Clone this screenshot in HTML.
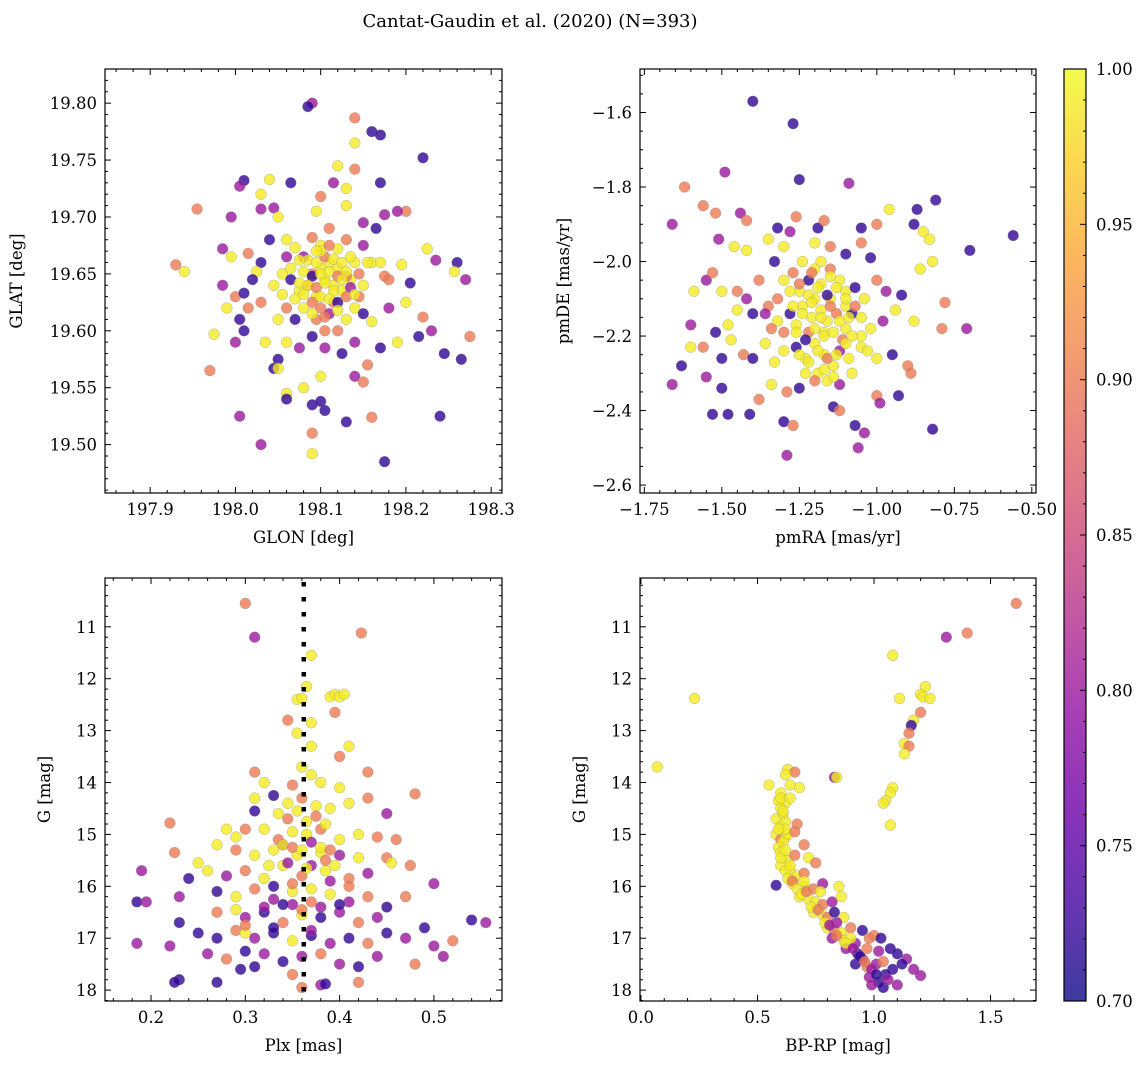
<!DOCTYPE html>
<html><head><meta charset="utf-8"><style>
html,body{margin:0;padding:0;background:#fff;}
svg{display:block;font-family:"DejaVu Serif","Liberation Serif",serif;}
</style></head><body>
<svg id="fig" width="1148" height="1068" viewBox="0 0 1148 1068" xmlns="http://www.w3.org/2000/svg">
<defs>
<linearGradient id="plasma" x1="0" y1="1" x2="0" y2="0">
<stop offset="0" stop-color="#0d0887"/><stop offset="0.1" stop-color="#41049d"/><stop offset="0.2" stop-color="#6a00a8"/><stop offset="0.3" stop-color="#8f0da4"/><stop offset="0.4" stop-color="#b12a90"/><stop offset="0.5" stop-color="#cc4778"/><stop offset="0.6" stop-color="#e16462"/><stop offset="0.7" stop-color="#f2844b"/><stop offset="0.8" stop-color="#fca636"/><stop offset="0.9" stop-color="#fcce25"/><stop offset="1" stop-color="#f0f921"/>
</linearGradient>
</defs>
<text x="530" y="27" text-anchor="middle" font-size="18">Cantat-Gaudin et al. (2020) (N=393)</text>
</svg>
<script>
// ---------- data ----------
const p1_glon=[198.09,198.085,198.14,198.14,198.16,198.17,198.22,198.12,198.14,197.955,198.01,198.005,198.04,198.065,198.03,198.1,198.115,198.13,198.17,198.2,198.175,198.19,198.03,198.045,198.05,197.995,198.095,198.13,198.15,198.165,198.225,197.93,197.94,197.985,197.995,198.015,198.03,198.025,198.04,198.06,198.07,198.08,198.09,198.1,198.11,198.12,198.13,198.14,198.15,198.16,198.175,198.195,198.205,198.235,198.26,198.257,198.27,197.985,198.0,198.01,198.015,197.99,198.005,198.03,198.045,198.055,198.065,198.075,198.085,198.095,198.105,198.115,198.125,198.135,198.1,198.09,198.12,198.08,198.07,198.1,198.11,198.12,198.13,198.14,198.15,198.16,198.18,198.2,198.22,198.23,198.19,198.215,198.245,198.265,198.275,197.975,197.97,198.0,198.01,198.035,198.05,198.06,198.075,198.09,198.105,198.125,198.14,198.155,198.17,198.045,198.05,198.06,198.06,198.1,198.14,198.15,198.08,198.005,198.09,198.1,198.105,198.13,198.16,198.24,198.03,198.09,198.09,198.175,198.145,198.06,198.05,198.02,198.18,198.17,198.11,198.115,198.13,198.105,198.095];
const p1_glat=[19.80,19.797,19.787,19.765,19.775,19.772,19.752,19.745,19.742,19.707,19.732,19.727,19.733,19.73,19.72,19.718,19.73,19.725,19.73,19.705,19.702,19.705,19.707,19.708,19.70,19.70,19.705,19.71,19.695,19.69,19.672,19.658,19.652,19.672,19.665,19.668,19.66,19.652,19.68,19.68,19.673,19.665,19.682,19.675,19.69,19.672,19.68,19.66,19.675,19.66,19.648,19.658,19.642,19.662,19.66,19.652,19.645,19.64,19.63,19.633,19.62,19.62,19.61,19.625,19.64,19.65,19.645,19.635,19.64,19.63,19.645,19.64,19.635,19.645,19.655,19.65,19.655,19.62,19.61,19.62,19.615,19.60,19.61,19.62,19.615,19.608,19.62,19.625,19.612,19.60,19.59,19.595,19.58,19.575,19.595,19.597,19.565,19.59,19.60,19.59,19.575,19.59,19.585,19.595,19.585,19.58,19.59,19.57,19.585,19.567,19.567,19.545,19.54,19.56,19.56,19.555,19.55,19.525,19.535,19.538,19.53,19.52,19.524,19.525,19.50,19.51,19.492,19.485,19.63,19.62,19.61,19.645,19.645,19.66,19.66,19.625,19.648,19.60,19.61];
const p1_prob=[0.8,0.72,0.9,0.99,0.72,0.72,0.72,0.99,0.9,0.9,0.72,0.8,0.99,0.72,0.99,0.9,0.8,0.99,0.72,0.9,0.8,0.8,0.8,0.8,0.99,0.8,0.99,0.99,0.8,0.72,0.99,0.9,0.99,0.8,0.99,0.9,0.72,0.99,0.72,0.99,0.99,0.8,0.9,0.99,0.9,0.99,0.9,0.99,0.8,0.99,0.9,0.99,0.72,0.8,0.72,0.99,0.8,0.8,0.9,0.72,0.9,0.99,0.72,0.9,0.99,0.99,0.72,0.99,0.9,0.99,0.99,0.99,0.99,0.99,0.99,0.9,0.99,0.99,0.72,0.9,0.8,0.9,0.99,0.99,0.72,0.99,0.8,0.99,0.9,0.8,0.99,0.72,0.72,0.72,0.9,0.99,0.9,0.8,0.72,0.99,0.72,0.99,0.8,0.72,0.8,0.72,0.8,0.9,0.72,0.72,0.99,0.99,0.72,0.99,0.8,0.9,0.99,0.8,0.72,0.72,0.72,0.72,0.9,0.72,0.8,0.9,0.99,0.72,0.9,0.9,0.99,0.72,0.9,0.99,0.99,0.9,0.9,0.9,0.9];
const p1_glon_core=[198.085,198.095,198.105,198.115,198.125,198.08,198.09,198.1,198.11,198.12,198.13,198.075,198.085,198.095,198.105,198.115,198.125,198.135,198.07,198.08,198.09,198.1,198.11,198.12,198.13,198.14,198.065,198.075,198.135,198.145,198.055,198.06,198.15,198.155,198.1,198.11,198.09,198.12,198.105,198.095];
const p1_glat_core=[19.662,19.66,19.665,19.663,19.66,19.652,19.648,19.65,19.652,19.648,19.652,19.642,19.64,19.638,19.642,19.635,19.645,19.638,19.628,19.632,19.625,19.63,19.628,19.625,19.63,19.632,19.655,19.662,19.665,19.65,19.632,19.665,19.64,19.66,19.67,19.675,19.615,19.618,19.612,19.67];
const p1_prob_core=[0.99,0.99,0.9,0.99,0.99,0.99,0.72,0.99,0.99,0.9,0.99,0.99,0.99,0.9,0.99,0.99,0.99,0.8,0.99,0.99,0.9,0.99,0.99,0.72,0.9,0.99,0.99,0.99,0.99,0.9,0.99,0.8,0.99,0.99,0.99,0.9,0.99,0.99,0.9,0.99];

const p2_pmra=[-1.4,-1.27,-1.25,-1.62,-1.49,-1.09,-0.81,-0.56,-0.87,-0.96,-1.56,-1.52,-1.44,-1.66,-1.42,-1.32,-1.28,-1.26,-1.19,-1.17,-1.05,-1.0,-0.88,-0.85,-0.83,-0.7,-1.51,-1.46,-1.42,-1.35,-1.3,-1.2,-1.15,-1.1,-1.05,-1.02,-0.82,-1.55,-1.53,-1.59,-1.5,-1.45,-1.42,-1.38,-1.33,-1.3,-1.27,-1.24,-1.22,-1.2,-1.18,-1.15,-1.12,-1.1,-1.07,-1.04,-1.0,-0.97,-0.92,-0.86,-0.78,-1.6,-1.52,-1.48,-1.45,-1.4,-1.35,-1.32,-1.28,-1.26,-1.24,-1.21,-1.18,-1.16,-1.13,-1.1,-1.08,-1.05,-1.02,-0.98,-0.94,-0.88,-0.79,-0.71,-1.63,-1.6,-1.56,-1.5,-1.47,-1.43,-1.4,-1.36,-1.33,-1.3,-1.26,-1.23,-1.2,-1.17,-1.14,-1.12,-1.09,-1.05,-1.0,-0.95,-0.9,-0.89,-1.66,-1.55,-1.5,-1.38,-1.34,-1.29,-1.25,-1.19,-1.16,-1.12,-1.08,-1.0,-0.93,-1.53,-1.48,-1.41,-1.3,-1.27,-1.14,-1.12,-1.04,-1.07,-1.06,-0.99,-0.82,-1.29,-1.15,-1.2,-1.25,-1.1,-1.17,-1.22,-1.3];
const p2_pmde=[-1.57,-1.63,-1.78,-1.8,-1.76,-1.79,-1.835,-1.93,-1.86,-1.86,-1.85,-1.87,-1.87,-1.9,-1.89,-1.91,-1.92,-1.88,-1.91,-1.89,-1.91,-1.9,-1.9,-1.92,-1.94,-1.97,-1.94,-1.96,-1.97,-1.94,-1.96,-1.95,-1.96,-1.98,-1.95,-1.99,-2.0,-2.05,-2.03,-2.08,-2.08,-2.08,-2.1,-2.05,-2.0,-2.05,-2.03,-2.0,-2.05,-2.02,-2.06,-2.02,-2.05,-2.08,-2.07,-2.1,-2.05,-2.08,-2.09,-2.02,-2.11,-2.17,-2.19,-2.17,-2.13,-2.14,-2.12,-2.16,-2.14,-2.17,-2.12,-2.15,-2.13,-2.16,-2.14,-2.18,-2.14,-2.2,-2.18,-2.16,-2.13,-2.16,-2.18,-2.18,-2.28,-2.23,-2.23,-2.26,-2.21,-2.25,-2.26,-2.22,-2.27,-2.24,-2.23,-2.26,-2.22,-2.25,-2.28,-2.24,-2.26,-2.23,-2.26,-2.25,-2.28,-2.3,-2.33,-2.31,-2.34,-2.37,-2.33,-2.35,-2.34,-2.3,-2.32,-2.33,-2.3,-2.36,-2.36,-2.41,-2.41,-2.41,-2.43,-2.44,-2.39,-2.4,-2.46,-2.44,-2.5,-2.38,-2.45,-2.52,-2.1,-2.1,-2.08,-2.12,-2.19,-2.19,-2.19];
const p2_prob=[0.72,0.72,0.72,0.9,0.8,0.8,0.72,0.72,0.72,0.99,0.9,0.9,0.8,0.8,0.9,0.72,0.8,0.9,0.72,0.9,0.72,0.9,0.72,0.99,0.99,0.72,0.8,0.99,0.99,0.99,0.99,0.99,0.9,0.72,0.9,0.72,0.99,0.8,0.9,0.99,0.99,0.9,0.8,0.9,0.72,0.99,0.9,0.99,0.72,0.99,0.99,0.9,0.99,0.99,0.72,0.99,0.9,0.8,0.72,0.99,0.9,0.8,0.72,0.99,0.99,0.72,0.9,0.99,0.72,0.99,0.99,0.99,0.99,0.99,0.9,0.99,0.72,0.99,0.99,0.8,0.99,0.99,0.9,0.8,0.72,0.99,0.9,0.72,0.99,0.9,0.72,0.99,0.99,0.99,0.72,0.99,0.99,0.99,0.99,0.8,0.99,0.99,0.99,0.72,0.9,0.9,0.8,0.8,0.72,0.9,0.99,0.9,0.72,0.99,0.99,0.8,0.99,0.9,0.72,0.72,0.72,0.72,0.72,0.9,0.72,0.9,0.8,0.72,0.8,0.8,0.72,0.8,0.99,0.99,0.99,0.99,0.99,0.9,0.9];
const p2_pmra_core=[-1.28,-1.25,-1.22,-1.19,-1.16,-1.13,-1.1,-1.07,-1.27,-1.24,-1.21,-1.18,-1.15,-1.12,-1.09,-1.26,-1.23,-1.2,-1.17,-1.14,-1.11,-1.08,-1.25,-1.22,-1.19,-1.16,-1.13,-1.1,-1.23,-1.2,-1.17,-1.14,-1.21,-1.18,-1.15,-1.32,-1.34,-1.36,-1.05,-1.03];
const p2_pmde_core=[-2.08,-2.06,-2.09,-2.07,-2.09,-2.07,-2.1,-2.12,-2.12,-2.14,-2.11,-2.15,-2.12,-2.16,-2.15,-2.19,-2.21,-2.18,-2.2,-2.19,-2.21,-2.2,-2.25,-2.27,-2.24,-2.26,-2.25,-2.22,-2.3,-2.32,-2.29,-2.31,-2.03,-2.0,-2.04,-2.1,-2.18,-2.14,-2.15,-2.24];
const p2_prob_core=[0.99,0.9,0.99,0.99,0.72,0.99,0.99,0.9,0.99,0.99,0.99,0.99,0.9,0.99,0.99,0.99,0.72,0.99,0.99,0.99,0.9,0.99,0.99,0.99,0.99,0.9,0.99,0.99,0.99,0.9,0.99,0.99,0.9,0.99,0.99,0.9,0.9,0.8,0.99,0.99];

const p3_plx=[0.3,0.31,0.423,0.37,0.365,0.355,0.36,0.39,0.395,0.4,0.405,0.395,0.345,0.37,0.355,0.37,0.41,0.4,0.31,0.36,0.37,0.43,0.32,0.35,0.38,0.4,0.48,0.31,0.33,0.345,0.36,0.375,0.39,0.41,0.43,0.45,0.31,0.3,0.28,0.29,0.32,0.335,0.35,0.365,0.38,0.4,0.42,0.44,0.46,0.22,0.225,0.27,0.29,0.31,0.33,0.355,0.38,0.4,0.42,0.45,0.25,0.26,0.28,0.3,0.32,0.34,0.36,0.385,0.41,0.43,0.455,0.475,0.5,0.19,0.185,0.195,0.23,0.24,0.27,0.29,0.31,0.33,0.35,0.37,0.39,0.41,0.43,0.45,0.47,0.27,0.29,0.3,0.32,0.34,0.36,0.38,0.4,0.42,0.44,0.49,0.54,0.555,0.23,0.25,0.27,0.29,0.31,0.33,0.35,0.37,0.39,0.41,0.43,0.45,0.47,0.5,0.52,0.185,0.22,0.26,0.28,0.3,0.32,0.34,0.36,0.38,0.4,0.42,0.44,0.48,0.51,0.295,0.31,0.35,0.38,0.385,0.42,0.27,0.23,0.225,0.36,0.34,0.37,0.3,0.35];
const p3_g=[10.55,11.2,11.12,11.55,12.15,12.4,12.38,12.35,12.3,12.35,12.3,12.65,12.8,12.85,13.05,13.3,13.3,13.5,13.8,13.7,13.85,13.8,14.0,14.05,14.0,14.1,14.22,14.3,14.25,14.4,14.3,14.45,14.5,14.4,14.3,14.6,14.55,14.9,14.9,15.05,14.9,15.1,14.95,15.0,14.9,15.1,15.0,15.05,15.1,14.78,15.35,15.2,15.3,15.4,15.3,15.4,15.35,15.4,15.45,15.45,15.55,15.7,15.8,15.7,15.85,15.6,15.8,15.7,15.85,15.75,15.55,15.6,15.95,15.7,16.3,16.3,16.2,15.85,16.1,16.2,16.05,16.25,16.1,16.3,16.15,16.3,16.2,16.4,16.2,16.5,16.45,16.6,16.5,16.7,16.55,16.6,16.5,16.7,16.6,16.8,16.65,16.7,16.7,16.9,17.0,16.85,17.0,16.9,17.05,16.95,17.1,17.0,17.1,16.9,17.0,17.15,17.05,17.1,17.15,17.3,17.4,17.25,17.3,17.45,17.35,17.3,17.5,17.55,17.35,17.5,17.35,17.6,17.55,17.7,17.9,17.88,17.85,17.85,17.8,17.85,17.95,15.2,15.6,16.9,16.35];
const p3_prob=[0.9,0.8,0.9,0.99,0.99,0.99,0.99,0.99,0.99,0.99,0.99,0.9,0.9,0.99,0.99,0.99,0.99,0.9,0.9,0.99,0.99,0.9,0.99,0.9,0.99,0.99,0.9,0.99,0.72,0.99,0.9,0.99,0.99,0.99,0.9,0.8,0.72,0.9,0.99,0.99,0.99,0.9,0.99,0.99,0.9,0.99,0.99,0.9,0.9,0.9,0.9,0.99,0.9,0.99,0.99,0.99,0.99,0.8,0.99,0.9,0.99,0.99,0.8,0.9,0.99,0.99,0.9,0.99,0.9,0.8,0.99,0.9,0.8,0.8,0.72,0.8,0.8,0.72,0.72,0.99,0.9,0.8,0.99,0.9,0.99,0.8,0.9,0.72,0.9,0.9,0.99,0.8,0.72,0.9,0.99,0.72,0.8,0.9,0.8,0.72,0.72,0.8,0.72,0.72,0.72,0.9,0.8,0.72,0.99,0.72,0.8,0.72,0.9,0.72,0.8,0.8,0.9,0.8,0.8,0.8,0.9,0.72,0.8,0.72,0.8,0.9,0.8,0.72,0.8,0.9,0.8,0.72,0.72,0.9,0.8,0.72,0.9,0.72,0.72,0.72,0.9,0.8,0.8,0.99,0.8];
const p3_plx_core=[0.335,0.345,0.355,0.365,0.375,0.385,0.34,0.35,0.36,0.37,0.38,0.39,0.325,0.345,0.365,0.385,0.395,0.33,0.35,0.37,0.39,0.41,0.32,0.34,0.36,0.38,0.4,0.3,0.33,0.37];
const p3_g_core=[14.6,14.7,14.55,14.75,14.65,14.8,15.2,15.25,15.3,15.15,15.25,15.3,15.6,15.55,15.65,15.5,15.6,16.0,15.95,16.05,15.9,16.0,16.4,16.35,16.45,16.4,16.35,16.75,16.8,16.85];
const p3_prob_core=[0.99,0.9,0.99,0.99,0.9,0.99,0.99,0.9,0.99,0.8,0.99,0.9,0.99,0.8,0.99,0.9,0.99,0.72,0.9,0.99,0.8,0.9,0.8,0.72,0.9,0.8,0.72,0.9,0.72,0.8];

const p4_bprp=[1.61,1.4,1.31,1.08,0.23,1.22,1.2,1.21,1.24,1.11,1.2,1.17,1.16,1.15,1.13,1.15,1.13,0.07,0.63,0.66,0.62,0.83,0.84,1.08,0.55,0.64,0.68,0.6,1.07,1.05,1.04,0.59,0.62,0.6,0.58,0.6,0.62,0.67,1.07,0.58,0.6,0.62,0.7,0.59,0.6,0.63,0.66,0.72,0.75,0.6,0.64,0.67,0.7,0.58,0.65,0.7,0.74,0.78,0.85,0.68,0.72,0.75,0.78,0.82,0.86,0.74,0.78,0.8,0.83,0.87,0.8,0.83,0.86,0.9,0.95,0.82,0.87,0.92,0.98,1.0,1.03,0.88,0.93,0.97,1.02,1.07,1.1,1.14,0.92,0.97,1.01,1.04,1.08,1.17,1.2,0.98,1.02,1.04,1.1,0.99,0.63,0.61,0.77,0.9,0.84,0.95,1.05];
const p4_g=[10.55,11.12,11.2,11.55,12.38,12.15,12.3,12.35,12.38,12.38,12.65,12.8,12.9,13.05,13.25,13.3,13.45,13.7,13.75,13.8,13.85,13.9,13.9,14.1,14.05,14.05,14.1,14.2,14.2,14.35,14.4,14.35,14.4,14.5,14.7,14.85,14.75,14.8,14.82,15.0,15.1,15.05,15.2,15.25,15.35,15.5,15.4,15.45,15.55,15.6,15.7,15.8,15.75,15.98,15.95,16.0,16.05,15.95,16.0,16.2,16.25,16.3,16.35,16.3,16.2,16.5,16.55,16.6,16.5,16.6,16.8,16.85,16.9,16.8,16.85,17.0,17.05,17.1,17.0,16.95,17.0,17.2,17.3,17.2,17.25,17.2,17.3,17.4,17.5,17.55,17.5,17.45,17.6,17.6,17.72,17.75,17.85,17.95,17.9,17.9,15.0,14.6,16.1,17.0,16.7,17.4,17.7];
const p4_prob=[0.9,0.9,0.8,0.99,0.99,0.99,0.99,0.99,0.99,0.99,0.9,0.99,0.72,0.9,0.99,0.9,0.99,0.99,0.99,0.9,0.99,0.8,0.99,0.99,0.99,0.99,0.99,0.99,0.99,0.99,0.99,0.99,0.99,0.99,0.99,0.99,0.99,0.9,0.99,0.99,0.9,0.99,0.9,0.99,0.99,0.99,0.9,0.99,0.9,0.99,0.99,0.99,0.9,0.72,0.99,0.99,0.9,0.8,0.99,0.99,0.99,0.99,0.9,0.8,0.99,0.99,0.99,0.9,0.72,0.99,0.99,0.9,0.99,0.9,0.72,0.8,0.99,0.8,0.9,0.9,0.72,0.8,0.72,0.9,0.8,0.72,0.72,0.8,0.72,0.9,0.8,0.9,0.72,0.8,0.8,0.8,0.72,0.72,0.8,0.8,0.99,0.99,0.99,0.99,0.8,0.8,0.72];
const p4_bprp_core=[0.6,0.61,0.62,0.61,0.6,0.62,0.63,0.64,0.65,0.67,0.69,0.71,0.73,0.76,0.79,0.81,0.84,0.88,0.91,0.94,0.96,0.99,1.01,1.06,1.12,0.64,0.66,0.62,0.59,0.7];
const p4_g_core=[14.3,14.55,14.9,15.15,15.45,15.7,15.85,15.6,15.9,16.05,16.15,16.1,16.4,16.45,16.7,16.75,16.95,17.1,17.2,17.35,17.45,17.6,17.7,17.8,17.5,14.3,14.95,15.3,14.9,15.9];
const p4_prob_core=[0.99,0.99,0.99,0.99,0.99,0.99,0.99,0.99,0.9,0.99,0.99,0.9,0.99,0.9,0.99,0.8,0.9,0.99,0.8,0.72,0.9,0.8,0.72,0.8,0.72,0.99,0.9,0.99,0.99,0.99];

const plxRef=[0.362];
const cbTicks=[0.70,0.75,0.80,0.85,0.90,0.95,1.00];

// ---------- helpers ----------
const NS="http://www.w3.org/2000/svg";
const svg=document.getElementById('fig');
function mk(tag,attrs,parent){const e=document.createElementNS(NS,tag);for(const k in attrs)e.setAttribute(k,attrs[k]);(parent||svg).appendChild(e);return e;}
const stops=[[0,[13,8,135]],[0.1,[65,4,157]],[0.2,[106,0,168]],[0.3,[143,13,164]],[0.4,[177,42,144]],[0.5,[204,71,120]],[0.6,[225,100,98]],[0.7,[242,132,75]],[0.8,[252,166,54]],[0.9,[252,206,37]],[1,[240,249,33]]];
function plasma(t){t=Math.max(0,Math.min(1,t));for(let i=1;i<stops.length;i++){if(t<=stops[i][0]){const a=stops[i-1],b=stops[i];const f=(t-a[0])/(b[0]-a[0]);const c=a[1].map((v,j)=>Math.round(v+(b[1][j]-v)*f));return `rgb(${c[0]},${c[1]},${c[2]})`;}}return 'rgb(240,249,33)';}
function pcol(p){return plasma((p-0.7)/0.3);}
function fmt(v,d){let s=v.toFixed(d);if(v<0)s='\u2212'+s.slice(1);return s;}

function panel(cfg){
  const g=mk('g',{});
  
  
  const L=cfg.L,R=cfg.R,T=cfg.T,B=cfg.B;
  const sx=v=>L+(v-cfg.x0)/(cfg.x1-cfg.x0)*(R-L);
  const sy=cfg.yinv? v=>T+(v-cfg.y0)/(cfg.y1-cfg.y0)*(B-T) : v=>B-(v-cfg.y0)/(cfg.y1-cfg.y0)*(B-T);
  const mg=mk('g',{},g);
  
  
  for(let i=0;i<cfg.xs.length;i++){
    const c=mk('circle',{cx:sx(cfg.xs[i]).toFixed(1),cy:sy(cfg.ys[i]).toFixed(1),r:5.4,fill:pcol(cfg.ps[i]),'fill-opacity':0.8,stroke:'#888','stroke-opacity':0.6,'stroke-width':0.5},mg);
    
    
  }
  if(cfg.vline){const ln=mk('line',{x1:sx(cfg.vline[0]),x2:sx(cfg.vline[0]),y1:T+4,y2:B,stroke:'#000','stroke-width':4.5,'stroke-dasharray':'4.5 10.5'},g);
    
    }
  const fr=mk('rect',{x:L,y:T,width:R-L,height:B-T,fill:'none',stroke:'#000','stroke-width':1.2},g);
  
  
  const xa=mk('g',{},g);
  
  
  const xmin=Math.min(cfg.x0,cfg.x1),xmax=Math.max(cfg.x0,cfg.x1);
  for(let k=Math.ceil(xmin/cfg.xminor-1e-6);k*cfg.xminor<=xmax+1e-9;k++){
    const v=k*cfg.xminor;const X=sx(v);
    const isMaj=Math.abs(v/cfg.xmajor-Math.round(v/cfg.xmajor))<1e-6;const len=isMaj?6:3;
    mk('line',{x1:X,x2:X,y1:B,y2:B-len,stroke:'#000','stroke-width':1},xa);
    mk('line',{x1:X,x2:X,y1:T,y2:T+len,stroke:'#000','stroke-width':1},xa);
    if(isMaj){const t=mk('text',{x:X,y:B+22,'text-anchor':'middle','font-size':16.5},xa);t.textContent=fmt(v,cfg.xd);
      }
  }
  const xl=mk('text',{x:(L+R)/2,y:B+50,'text-anchor':'middle','font-size':16.5},g);xl.textContent=cfg.xlabel;
  
  const ya=mk('g',{},g);
  
  
  const ymin=Math.min(cfg.y0,cfg.y1),ymax=Math.max(cfg.y0,cfg.y1);
  for(let k=Math.ceil(ymin/cfg.yminor-1e-6);k*cfg.yminor<=ymax+1e-9;k++){
    const v=k*cfg.yminor;const Y=sy(v);
    const isMaj=Math.abs(v/cfg.ymajor-Math.round(v/cfg.ymajor))<1e-6;const len=isMaj?6:3;
    mk('line',{x1:L,x2:L+len,y1:Y,y2:Y,stroke:'#000','stroke-width':1},ya);
    mk('line',{x1:R,x2:R-len,y1:Y,y2:Y,stroke:'#000','stroke-width':1},ya);
    if(isMaj){const t=mk('text',{x:L-8,y:Y+6,'text-anchor':'end','font-size':16.5},ya);t.textContent=fmt(v,cfg.yd);
      }
  }
  const yl=mk('text',{x:0,y:0,'text-anchor':'middle','font-size':16.5,transform:`translate(${cfg.ylx},${(T+B)/2}) rotate(-90)`},g);yl.textContent=cfg.ylabel;
  
}

panel({name:'sky-position-panel',L:105,R:502,T:69,B:493,x0:197.847,x1:198.3127,y0:19.4575,y1:19.8300,yinv:false,xs:p1_glon.concat(p1_glon_core),ys:p1_glat.concat(p1_glat_core),ps:p1_prob.concat(p1_prob_core),xmajor:0.1,xminor:0.02,xd:1,ymajor:0.05,yminor:0.01,yd:2,xlabel:'GLON [deg]',ylabel:'GLAT [deg]',ylx:22});
panel({name:'proper-motion-panel',L:640,R:1036,T:69,B:493,x0:-1.764,x1:-0.4865,y0:-2.6213,y1:-1.4832,yinv:false,xs:p2_pmra.concat(p2_pmra_core),ys:p2_pmde.concat(p2_pmde_core),ps:p2_prob.concat(p2_prob_core),xmajor:0.25,xminor:0.05,xd:2,ymajor:0.2,yminor:0.05,yd:1,xlabel:'pmRA [mas/yr]',ylabel:'pmDE [mas/yr]',ylx:569});
panel({name:'parallax-magnitude-panel',L:105,R:502,T:578,B:1001,x0:0.1512,x1:0.5722,y0:10.06,y1:18.21,yinv:true,xs:p3_plx.concat(p3_plx_core),ys:p3_g.concat(p3_g_core),ps:p3_prob.concat(p3_prob_core),xmajor:0.1,xminor:0.02,xd:1,ymajor:1,yminor:0.2,yd:0,xlabel:'Plx [mas]',ylabel:'G [mag]',ylx:50,vline:plxRef});
panel({name:'color-magnitude-panel',L:640,R:1036,T:578,B:1001,x0:-0.004,x1:1.695,y0:10.06,y1:18.21,yinv:true,xs:p4_bprp.concat(p4_bprp_core),ys:p4_g.concat(p4_g_core),ps:p4_prob.concat(p4_prob_core),xmajor:0.5,xminor:0.1,xd:1,ymajor:1,yminor:0.2,yd:0,xlabel:'BP-RP [mag]',ylabel:'G [mag]',ylx:585});

// colorbar
const cb=mk('g',{});


const cT=69,cB=1001,cL=1064,cR=1086;
mk('rect',{x:cL,y:cT,width:cR-cL,height:cB-cT,fill:'url(#plasma)','fill-opacity':0.8},cb);
mk('rect',{x:cL,y:cT,width:cR-cL,height:cB-cT,fill:'none',stroke:'#000','stroke-width':1.2},cb);
const cy=v=>cB-(v-0.7)/0.3*(cB-cT);
for(let k=70;k<=100;k++){const v=k/100;const Y=cy(v);const maj=k%5===0;
  mk('line',{x1:cR,x2:cR-(maj?6:3),y1:Y,y2:Y,stroke:'#000','stroke-width':1},cb);}
for(const v of cbTicks){const t=mk('text',{x:cR+10,y:cy(v)+6,'font-size':16.5},cb);t.textContent=v.toFixed(2);
  }
</script>
</body></html>
